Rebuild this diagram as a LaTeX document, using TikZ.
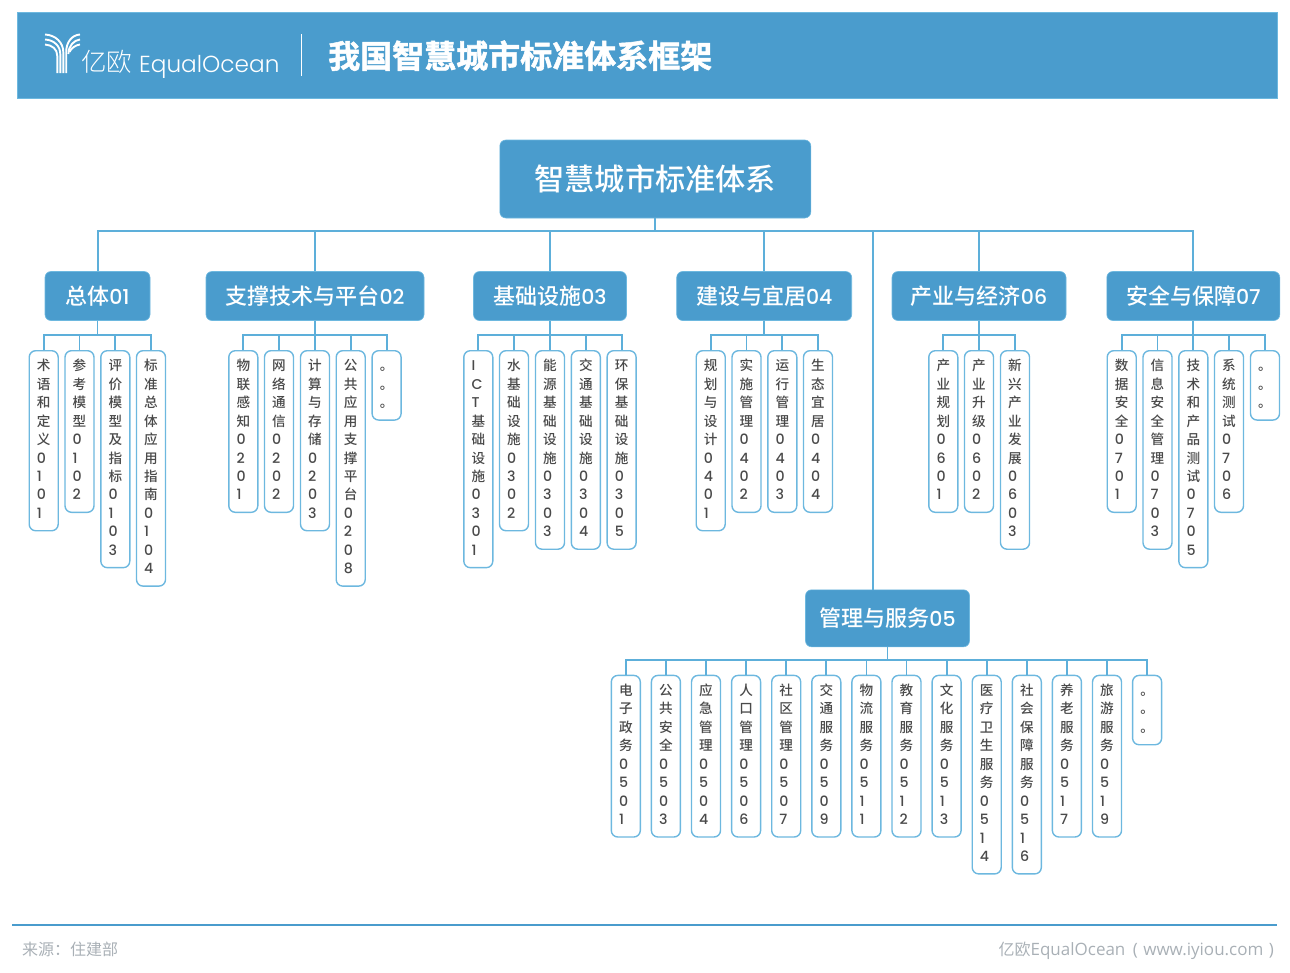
\documentclass[tikz,border=0pt]{standalone}
\usepackage{fontspec}
\setmainfont{Noto Sans CJK SC}
\newfontfamily\lat{Poppins}
\newfontfamily\latmed{Poppins Medium}
\newfontfamily\latlight{Poppins Light}
\newfontfamily\cjklight{Noto Sans CJK SC Light}
\newfontfamily\cjkmed{Noto Sans CJK SC Medium}
\newfontfamily\foot{Open Sans}
\newfontfamily\cjkhead[FakeBold=1.6]{Noto Sans CJK SC Bold}
\definecolor{boxblue}{HTML}{4A9CCD}
\definecolor{linkblue}{HTML}{5DAFDA}
\definecolor{edgeblue}{HTML}{6DB8DF}
\definecolor{inkgray}{HTML}{4A4A4A}
\definecolor{footgray}{HTML}{A9B0B6}
\makeatletter
\newcommand{\vsCJK}[1]{\@tfor\vsch:=#1\do{\hbox{\rule[-5.4pt]{0pt}{18.45pt}\cjkmed\fontsize{13.6}{13.6}\selectfont\vsch}}}
\newcommand{\vsLat}[1]{\@tfor\vsch:=#1\do{\hbox{\rule[-5.4pt]{0pt}{18.45pt}\latmed\fontsize{14.2}{14.2}\selectfont\vsch}}}
\makeatother
\newcommand{\leaftext}[3]{\vbox{\offinterlineskip\hsize=13.6pt \vsLat{#1}\vsCJK{#2}\vsLat{#3}}}
\tikzset{
  rootbox/.style={rounded corners=6pt,fill=boxblue,draw=edgeblue,line width=.6pt,text=white,anchor=center,inner sep=0pt},
  groupbox/.style={rounded corners=6pt,fill=boxblue,draw=edgeblue,line width=.6pt,text=white,anchor=center,inner sep=0pt,minimum height=49pt},
  leafbox/.style={rounded corners=6.5pt,fill=white,draw=edgeblue,line width=1.4pt,text=inkgray,anchor=north,inner xsep=0pt,inner ysep=7pt,minimum width=29pt},
  link/.style={draw=linkblue,line width=2pt},
  sublink/.style={draw=linkblue,line width=1.8pt},
  logostripe/.style={draw=white,line width=1.9pt},
}
\newcommand{\headtext}[2]{\fontsize{22}{22}\selectfont\cjkmed #1{\latmed\fontsize{20.5}{20.5}\selectfont #2}}
\newcommand{\leaf}[6]{\node[leafbox] (#1) at (#2,#3) {\leaftext{#4}{#5}{#6}};}
\newcommand{\grouphead}[5]{\node[groupbox,minimum width=#4] (#1) at (#2,#3) {#5};}
\begin{document}
\begin{tikzpicture}[x=1pt,y=-1pt]
\useasboundingbox (0,0) rectangle (1290,972);
% header
\fill[boxblue] (17,12) rectangle (1277,98);
\draw[edgeblue,line width=.6pt] (17,12) rectangle (1277,98);
% logo
\draw[logostripe] (45,44.5) .. controls (52,45) and (57.3,49) .. (57.3,56) -- (57.3,73);
\draw[logostripe] (45,39.5) .. controls (54,40) and (60.3,46) .. (60.3,54) -- (60.3,73);
\draw[logostripe] (45,34.5) .. controls (56,35) and (63.3,43) .. (63.3,52) -- (63.3,73);
\draw[logostripe] (80,34.5) .. controls (72,35) and (66.2,42) .. (66.2,52) -- (66.2,73);
\draw[logostripe] (80,39.5) .. controls (74,40) and (68.4,46) .. (68.4,54);
\draw[logostripe] (80,44.5) .. controls (76,45) and (71,48) .. (69.5,52);
\node[text=white,anchor=base west,inner sep=0pt] (logocn) at (81,71) {\cjklight\fontsize{25.5}{25.5}\selectfont 亿欧};
\node[text=white,anchor=base west,inner sep=0pt] (logoen) at (139,72) {\latlight\fontsize{23.2}{23.2}\selectfont EqualOcean};
\draw[white,line width=1pt] (301,34) -- (301,76);
\node[text=white,anchor=base west,inner sep=0pt] (title) at (328,68) {\cjkhead\fontsize{32}{32}\selectfont 我国智慧城市标准体系框架};
% root
\node[rootbox,minimum width=311pt,minimum height=78pt] (root) at (655.3,179) {\cjkmed\fontsize{30.2}{30.2}\selectfont 智慧城市标准体系};
% groups
\grouphead{gA}{97.5}{296}{105pt}{\headtext{总体}{01}}
\grouphead{gB}{315}{296}{218pt}{\headtext{支撑技术与平台}{02}}
\grouphead{gC}{550}{296}{153pt}{\headtext{基础设施}{03}}
\grouphead{gD}{764.2}{296}{175pt}{\headtext{建设与宜居}{04}}
\grouphead{gF}{979}{296}{174pt}{\headtext{产业与经济}{06}}
\grouphead{gG}{1193.3}{296}{173pt}{\headtext{安全与保障}{07}}
\node[groupbox,minimum width=164pt,minimum height=57pt] (gE) at (887.5,618.3) {\headtext{管理与服务}{05}};
% leaves A
\leaf{a1}{43.7}{350}{}{术语和定义}{0101}
\leaf{a2}{79.5}{350}{}{参考模型}{0102}
\leaf{a3}{115.3}{350}{}{评价模型及指标}{0103}
\leaf{a4}{151}{350}{}{标准总体应用指南}{0104}
% B
\leaf{b1}{243.3}{350}{}{物联感知}{0201}
\leaf{b2}{279}{350}{}{网络通信}{0202}
\leaf{b3}{315}{350}{}{计算与存储}{0203}
\leaf{b4}{350.7}{350}{}{公共应用支撑平台}{0208}
\leaf{b5}{386.6}{350}{}{。。。}{}
% C
\leaf{c1}{478.3}{350}{ICT}{基础设施}{0301}
\leaf{c2}{514}{350}{}{水基础设施}{0302}
\leaf{c3}{550}{350}{}{能源基础设施}{0303}
\leaf{c4}{585.8}{350}{}{交通基础设施}{0304}
\leaf{c5}{621.6}{350}{}{环保基础设施}{0305}
% D
\leaf{d1}{710.7}{350}{}{规划与设计}{0401}
\leaf{d2}{746.5}{350}{}{实施管理}{0402}
\leaf{d3}{782.3}{350}{}{运行管理}{0403}
\leaf{d4}{818}{350}{}{生态宜居}{0404}
% F
\leaf{f1}{943.3}{350}{}{产业规划}{0601}
\leaf{f2}{979}{350}{}{产业升级}{0602}
\leaf{f3}{1015}{350}{}{新兴产业发展}{0603}
% G
\leaf{g1}{1121.7}{350}{}{数据安全}{0701}
\leaf{g2}{1157.5}{350}{}{信息安全管理}{0703}
\leaf{g3}{1193.3}{350}{}{技术和产品测试}{0705}
\leaf{g4}{1229}{350}{}{系统测试}{0706}
\leaf{g5}{1265}{350}{}{。。。}{}
% E
\leaf{e1}{625.8}{674.7}{}{电子政务}{0501}
\leaf{e2}{665.9}{674.7}{}{公共安全}{0503}
\leaf{e3}{706}{674.7}{}{应急管理}{0504}
\leaf{e4}{746.1}{674.7}{}{人口管理}{0506}
\leaf{e5}{786.2}{674.7}{}{社区管理}{0507}
\leaf{e6}{826.3}{674.7}{}{交通服务}{0509}
\leaf{e7}{866.4}{674.7}{}{物流服务}{0511}
\leaf{e8}{906.5}{674.7}{}{教育服务}{0512}
\leaf{e9}{946.6}{674.7}{}{文化服务}{0513}
\leaf{e10}{986.7}{674.7}{}{医疗卫生服务}{0514}
\leaf{e11}{1026.8}{674.7}{}{社会保障服务}{0516}
\leaf{e12}{1066.9}{674.7}{}{养老服务}{0517}
\leaf{e13}{1107}{674.7}{}{旅游服务}{0519}
\leaf{e14}{1147.1}{674.7}{}{。。。}{}
% buses
\coordinate (mainbus) at (655.3,231);
\coordinate (gEdrop) at (873,590);
\coordinate (busA) at (97.5,335);
\coordinate (busB) at (315,335);
\coordinate (busC) at (550,335);
\coordinate (busD) at (764.2,335);
\coordinate (busF) at (979,335);
\coordinate (busG) at (1193.3,335);
\coordinate (busE) at (887.5,660);
\draw[link] (root.south) -- (mainbus);
\draw[link] (gA.north) |- (mainbus);
\draw[link] (gB.north) |- (mainbus);
\draw[link] (gC.north) |- (mainbus);
\draw[link] (gD.north) |- (mainbus);
\draw[link] (gF.north) |- (mainbus);
\draw[link] (gG.north) |- (mainbus);
\draw[link] (gEdrop) |- (mainbus);
\draw[sublink] (gA.south) -- (busA);
\foreach \n in {a1,a2,a3,a4} \draw[sublink] (\n.north) |- (busA);
\draw[sublink] (gB.south) -- (busB);
\foreach \n in {b1,b2,b3,b4,b5} \draw[sublink] (\n.north) |- (busB);
\draw[sublink] (gC.south) -- (busC);
\foreach \n in {c1,c2,c3,c4,c5} \draw[sublink] (\n.north) |- (busC);
\draw[sublink] (gD.south) -- (busD);
\foreach \n in {d1,d2,d3,d4} \draw[sublink] (\n.north) |- (busD);
\draw[sublink] (gF.south) -- (busF);
\foreach \n in {f1,f2,f3} \draw[sublink] (\n.north) |- (busF);
\draw[sublink] (gG.south) -- (busG);
\foreach \n in {g1,g2,g3,g4,g5} \draw[sublink] (\n.north) |- (busG);
\draw[sublink] (gE.south) -- (busE);
\foreach \n in {e1,e2,e3,e4,e5,e6,e7,e8,e9,e10,e11,e12,e13,e14} \draw[sublink] (\n.north) |- (busE);
% footer
\draw[boxblue,line width=2.4pt] (12,925) -- (1277,925);
\node[text=footgray,anchor=base west,inner sep=0pt] (src) at (22,955.5) {\fontsize{16}{16}\selectfont 来源：住建部};
\node[text=footgray,anchor=base east,inner sep=0pt] (brand) at (1274,955.5) {\fontsize{16}{16}\selectfont 亿欧{\foot\fontsize{17}{17}\selectfont EqualOcean\hspace{3pt} ( \hspace{1pt}www.iyiou.com\hspace{1pt} )}};
\end{tikzpicture}
\end{document}
